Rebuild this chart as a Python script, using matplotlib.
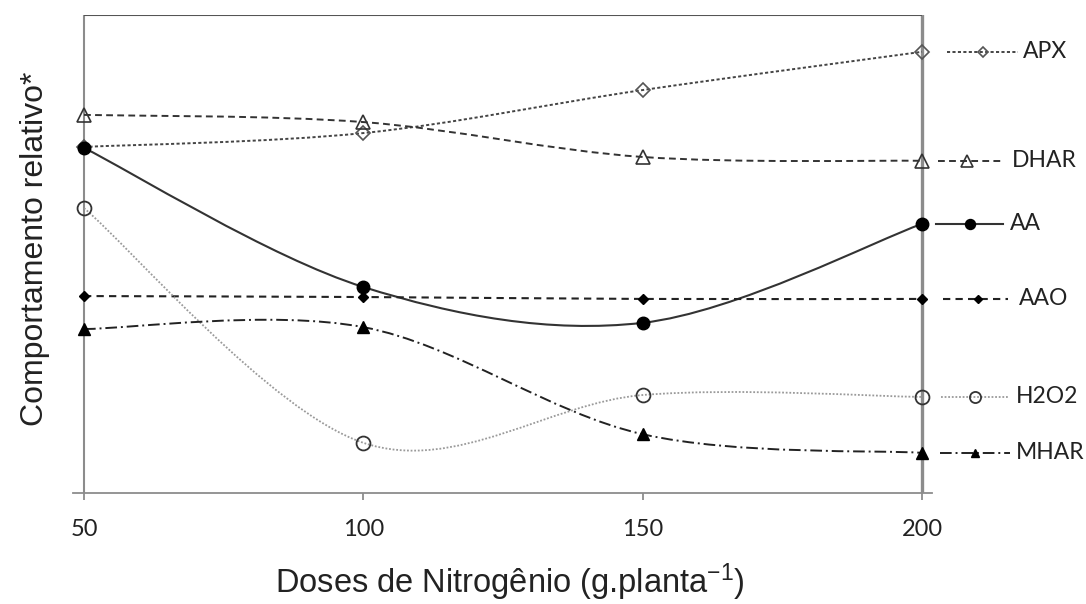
import numpy as np
import matplotlib.pyplot as plt
import matplotlib.transforms as mtransforms
from matplotlib.path import Path
from matplotlib.patches import PathPatch

plt.rcParams['mathtext.fontset'] = 'custom'
plt.rcParams['mathtext.rm'] = 'Liberation Sans'
plt.rcParams['mathtext.it'] = 'Liberation Sans'

# Doses (x) and relative behaviour of each variable (arbitrary 0-100 scale)
doses = [50, 100, 150, 200]
apx = [72.4, 75.3, 84.3, 92.3]
dhar = [79.1, 77.6, 70.3, 69.5]
aa = [72.2, 43.1, 35.6, 56.3]
aao = [41.2, 41.0, 40.6, 40.6]
h2o2 = [59.6, 10.5, 20.5, 20.1]
mhar = [34.3, 34.7, 12.3, 8.4]
names = ['APX', 'DHAR', 'AA', 'AAO', 'H2O2', 'MHAR']
values = [apx, dhar, aa, aao, h2o2, mhar]

# line / marker style per series
styles = [
    dict(color='#444444', lw=1.4, ls=(0, (1.6, 1.2)), marker='D', ms=7, mfc='none', mec='#555555', mew=1.2),
    dict(color='#333333', lw=1.4, ls=(0, (3.5, 2.2)), marker='^', ms=10, mfc='none', mec='#333333', mew=1.2),
    dict(color='#333333', lw=1.5, ls='-', marker='o', ms=9, mfc='black', mec='black', mew=1),
    dict(color='#222222', lw=1.5, ls=(0, (3.5, 2.5)), marker='D', ms=5.5, mfc='black', mec='black', mew=1),
    dict(color='#9a9a9a', lw=1.3, ls=(0, (1, 1)), marker='o', ms=10, mfc='none', mec='#333333', mew=1.3),
    dict(color='#222222', lw=1.4, ls=(0, (6, 2, 1, 2)), marker='^', ms=8, mfc='black', mec='black', mew=1),
]
# label sample positions (pixels): line start, line end, marker, text
label_pos = [
    (947, 1018, 983, 1023),
    (938, 1003, 967, 1012),
    (936, 1003, 970, 1010),
    (943, 1008, 978, 1019),
    (941, 1008, 975, 1016),
    (940, 1010, 975, 1016),
]


def smooth_path(x, y):
    # Excel-like smoothed line (Catmull-Rom as cubic Bezier)
    pts = np.column_stack([x, y]).astype(float)
    n = len(pts)
    verts = [pts[0]]
    codes = [Path.MOVETO]
    for i in range(n - 1):
        p0 = pts[max(i - 1, 0)]
        p1 = pts[i]
        p2 = pts[i + 1]
        p3 = pts[min(i + 2, n - 1)]
        verts += [p1 + (p2 - p0) / 6, p2 - (p3 - p1) / 6, p2]
        codes += [Path.CURVE4] * 3
    return Path(verts, codes)


W, H = 1086, 604
fig = plt.figure(figsize=(W / 100, H / 100), dpi=100)
ax = fig.add_axes([73 / W, (H - 493) / H, 859 / W, 478 / H])
ax.set_xlim(48.03, 201.79)
ax.set_ylim(0, 100)

grey = '#8c8c8c'
for s in ['top', 'left', 'right']:
    ax.spines[s].set_visible(False)
ax.spines['bottom'].set_color(grey)
ax.spines['bottom'].set_linewidth(1.3)
ax.axvline(50, color=grey, lw=1.5, zorder=1)
ax.axvline(200, color=grey, lw=2.4, zorder=1)
ax.hlines(100, 50, 200, color='#555555', lw=1.5, zorder=1)

ax.set_xticks(doses)
ax.set_xticklabels([str(d) for d in doses], family='Lato', fontsize=17, color='#222222')
ax.tick_params(axis='x', direction='out', length=5, width=1.3, color=grey, pad=14)
ax.set_yticks([])

blend = mtransforms.blended_transform_factory(fig.transFigure, ax.transData)

for name, vals, st, pos in zip(names, values, styles, label_pos):
    patch = PathPatch(smooth_path(doses, vals), fill=False, edgecolor=st['color'],
                      lw=st['lw'], ls=st['ls'], zorder=2)
    ax.add_patch(patch)
    mk = dict(marker=st['marker'], ms=st['ms'], mfc=st['mfc'], mec=st['mec'], mew=st['mew'])
    ax.plot(doses, vals, ls='none', zorder=3, clip_on=False, **mk)

    yl = vals[-1]
    x0, x1, xm, xt = pos
    ax.plot([x0 / W, x1 / W], [yl, yl], transform=blend, clip_on=False,
            color=st['color'], lw=st['lw'], ls=st['ls'])
    mk['ms'] = st['ms'] * 0.8
    ax.plot([xm / W], [yl], transform=blend, clip_on=False, ls='none', **mk)
    ax.text(xt / W, yl, name, transform=blend, va='center', ha='left',
            family='Lato', fontsize=16.5, color='#222222')

fig.text(510 / W, 1 - 582 / H, 'Doses de Nitrogênio (g.planta$^{-1}$)',
         ha='center', va='center', family='Liberation Sans', fontsize=23.5, color='#222222')
fig.text(35 / W, 1 - 249 / H, 'Comportamento relativo*', rotation=90,
         ha='center', va='center', family='Liberation Sans', fontsize=23, color='#222222')

fig.savefig('out.png', dpi=100)
